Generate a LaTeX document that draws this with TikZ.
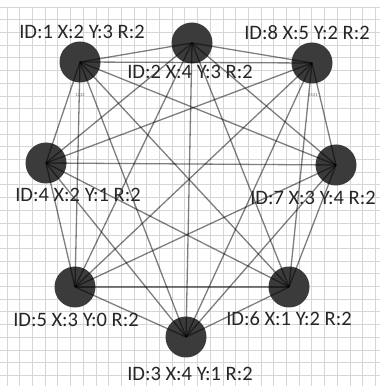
\documentclass[tikz,border=0pt]{standalone}
\usepackage{fontspec}
\setmainfont{Carlito}
\begin{document}
\begin{tikzpicture}[x=1pt,y=1pt,
  vtx/.style={circle,fill=black!77,minimum size=41pt,inner sep=0pt},
  edge/.style={draw=black,opacity=0.5,line width=1.3pt},
  lbl/.style={font=\fontsize{20.5}{22}\selectfont,text=black!85,inner sep=0pt},
  tiny/.style={font=\fontsize{4.5}{5}\selectfont,text=black!60,inner sep=0pt},
  gridline/.style={draw=black!16,line width=0.7pt}]
\useasboundingbox (0,0) rectangle (380,386);
\fill[white] (0,0) rectangle (380,386);
% grid
\foreach \i in {0,...,29} {
  \draw[gridline] ({7+\i*12.7},0) -- ({7+\i*12.7},379);
  \draw[gridline] (0,{379-\i*12.7}) -- (380,{379-\i*12.7});
}
% vertices
\node[vtx] (n1) at (80,324) {};
\node[vtx] (n2) at (192,343) {};
\node[vtx] (n8) at (312,323) {};
\node[vtx] (n4) at (46,223) {};
\node[vtx] (n7) at (336,221) {};
\node[vtx] (n5) at (75,99) {};
\node[vtx] (n6) at (289,99) {};
\node[vtx] (n3) at (186,49) {};
% edges (complete graph)
\foreach \a/\b in {n1/n2,n1/n8,n1/n4,n1/n7,n1/n5,n1/n6,n1/n3,
                   n2/n8,n2/n4,n2/n7,n2/n5,n2/n6,n2/n3,
                   n8/n4,n8/n7,n8/n5,n8/n6,n8/n3,
                   n4/n7,n4/n5,n4/n6,n4/n3,
                   n7/n5,n7/n6,n7/n3,
                   n5/n6,n5/n3,
                   n6/n3}
  \draw[edge] (\a.center) -- (\b.center);
% labels
\node[lbl] (l1) at (82,354) {ID:1 X:2 Y:3 R:2};
\node[lbl] (l2) at (190,314) {ID:2 X:4 Y:3 R:2};
\node[lbl] (l8) at (307,353) {ID:8 X:5 Y:2 R:2};
\node[lbl] (l4) at (78,191) {ID:4 X:2 Y:1 R:2};
\node[lbl] (l7) at (313,188) {ID:7 X:3 Y:4 R:2};
\node[lbl] (l5) at (76,66) {ID:5 X:3 Y:0 R:2};
\node[lbl] (l6) at (289,67) {ID:6 X:1 Y:2 R:2};
\node[lbl] (l3) at (190,12) {ID:3 X:4 Y:1 R:2};
\node[tiny] (t1) at (80,291) {1232};
\node[tiny] (t8) at (313,291) {4521};
\end{tikzpicture}
\end{document}
